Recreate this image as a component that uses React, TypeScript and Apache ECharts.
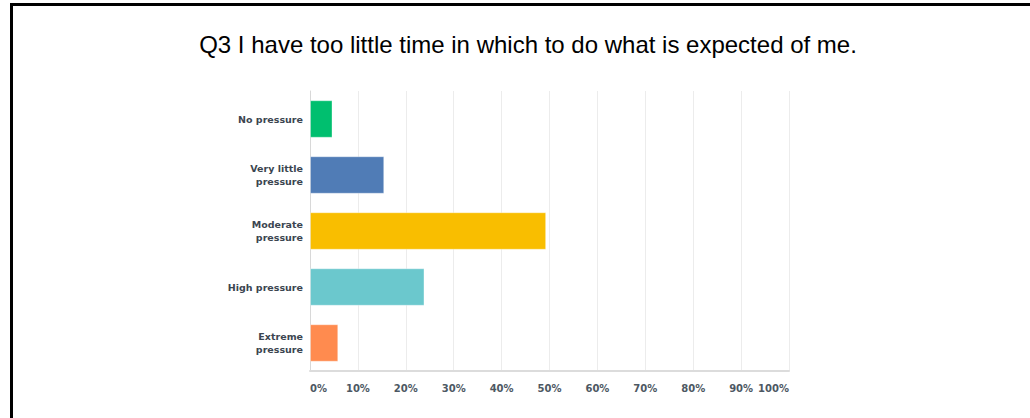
import React, { useEffect, useRef } from "react";
import * as echarts from "echarts";

const TITLE = "Q3 I have too little time in which to do what is expected of me.";
const categories = ["No pressure", "Very little\npressure", "Moderate\npressure", "High pressure", "Extreme\npressure"];
const percents = [4.7, 15.5, 49.3, 23.9, 5.9];
const barColors = ["#00BF6F", "#507CB6", "#F9BE00", "#6BC8CD", "#FF8B4F"];

export default function App() {
  const ref = useRef<HTMLDivElement>(null);
  useEffect(() => {
    document.body.style.margin = "0";
    const chart = echarts.init(ref.current!, null, { renderer: "svg" });
    chart.setOption({
      animation: false,
      backgroundColor: "#ffffff",
      title: {
        text: TITLE,
        left: 523,
        textAlign: "center",
        top: 27,
        textStyle: { fontFamily: "Liberation Sans", fontSize: 24, fontWeight: "normal", color: "#000000" },
      },
      graphic: [
        { type: "rect", shape: { x: 10, y: 3, width: 1020, height: 3 }, style: { fill: "#000000" } },
        { type: "rect", shape: { x: 10, y: 3, width: 3, height: 415 }, style: { fill: "#000000" } },
      ],
      grid: { left: 310, right: 241, top: 91, bottom: 47, containLabel: false },
      xAxis: {
        type: "value",
        min: 0,
        max: 100,
        interval: 10,
        axisLine: { show: true, lineStyle: { color: "#dcdcdc", width: 2 } },
        axisTick: { show: false },
        splitLine: { show: true, lineStyle: { color: "#ececec", width: 1 } },
        axisLabel: {
          formatter: "{value}%",
          margin: 12,
          alignMinLabel: "left",
          alignMaxLabel: "right",
          color: "#4d5863",
          fontFamily: "DejaVu Sans",
          fontWeight: "bold",
          fontSize: 10,
        },
      },
      yAxis: {
        type: "category",
        data: categories,
        inverse: true,
        axisLine: { show: true, lineStyle: { color: "#d8d8d8", width: 1 } },
        axisTick: { show: false },
        axisLabel: {
          margin: 7,
          color: "#3b4550",
          fontFamily: "DejaVu Sans",
          fontWeight: "bold",
          fontSize: 9.5,
          lineHeight: 12.5,
          align: "right",
        },
      },
      series: [
        {
          type: "bar",
          data: percents.map((v, i) => ({ value: v, itemStyle: { color: barColors[i] } })),
          barCategoryGap: "33%",
          itemStyle: { borderColor: "rgba(255,255,255,0.35)", borderWidth: 1 },
        },
      ],
    });
    return () => chart.dispose();
  }, []);
  return <div ref={ref} style={{ width: 1030, height: 418 }} />;
}
